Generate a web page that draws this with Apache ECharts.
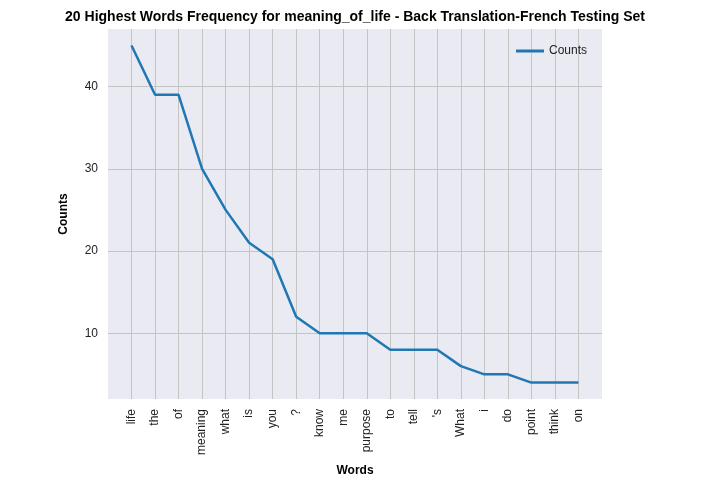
<!DOCTYPE html>
<html>
<head>
<meta charset="utf-8">
<script src="https://cdn.jsdelivr.net/npm/echarts@6/dist/echarts.min.js"></script>
<style>html,body{margin:0;background:#fff}#c{width:710px;height:487px}</style>
</head>
<body>
<div id="c"></div>
<script>
const words = ['life', 'the', 'of', 'meaning', 'what', 'is', 'you', '?', 'know', 'me',
    'purpose', 'to', 'tell', "'s", 'What', 'i', 'do', 'point', 'think', 'on'];
const counts = [45, 39, 39, 30, 25, 21, 19, 12, 10, 10, 10, 8, 8, 8, 6, 5, 5, 4, 4, 4];
const yTicks = [10, 20, 30, 40];

const grey = '#c4c4c4';
const font = 'Arial, "Liberation Sans", sans-serif';

// x is a value axis from -1 to 20 so the plot keeps its side margins
const xColors = [];
for (let v = -1; v <= 20; v++) xColors.push(v >= 0 && v < words.length ? grey : 'transparent');
const yColors = [];
for (let v = 2; v <= 47; v++) yColors.push(yTicks.indexOf(v) >= 0 ? grey : 'transparent');

const chart = echarts.init(document.getElementById('c'));
chart.setOption({
    animation: false,
    title: {
        text: '20 Highest Words Frequency for meaning_of_life - Back Translation-French Testing Set',
        left: 'center', top: 5,
        textStyle: { fontFamily: font, fontSize: 14, fontWeight: 'bold', color: '#000' }
    },
    legend: {
        right: 118, top: 40,
        itemWidth: 28, itemHeight: 3,
        icon: 'rect',
        textStyle: { fontFamily: font, fontSize: 12, color: '#222' },
        data: ['Counts']
    },
    grid: {
        left: 108, right: 108, top: 29, bottom: 88,
        show: true, backgroundColor: '#eaeaf2', borderWidth: 0
    },
    xAxis: {
        type: 'value', min: -1, max: 20, interval: 1,
        name: 'Words', nameLocation: 'middle', nameGap: 66,
        nameTextStyle: { fontFamily: font, fontSize: 12, fontWeight: 'bold', color: '#000' },
        axisLine: { show: false }, axisTick: { show: false },
        axisLabel: {
            rotate: 90, margin: 10, fontFamily: font, fontSize: 12, color: '#222',
            formatter: v => words[v] !== undefined ? words[v] : ''
        },
        splitLine: { show: true, lineStyle: { color: xColors, width: 1 } }
    },
    yAxis: {
        type: 'value', min: 2, max: 47, interval: 1,
        name: 'Counts', nameLocation: 'middle', nameGap: 38,
        nameTextStyle: { fontFamily: font, fontSize: 12, fontWeight: 'bold', color: '#000' },
        axisLine: { show: false }, axisTick: { show: false },
        axisLabel: {
            fontFamily: font, fontSize: 12, color: '#222', margin: 10,
            formatter: v => yTicks.indexOf(v) >= 0 ? String(v) : ''
        },
        splitLine: { show: true, lineStyle: { color: yColors, width: 1 } }
    },
    series: [{
        name: 'Counts',
        type: 'line',
        data: counts.map((c, i) => [i, c]),
        showSymbol: false,
        lineStyle: { color: '#1f77b4', width: 2.5 },
        itemStyle: { color: '#1f77b4' }
    }]
});
</script>
</body>
</html>
